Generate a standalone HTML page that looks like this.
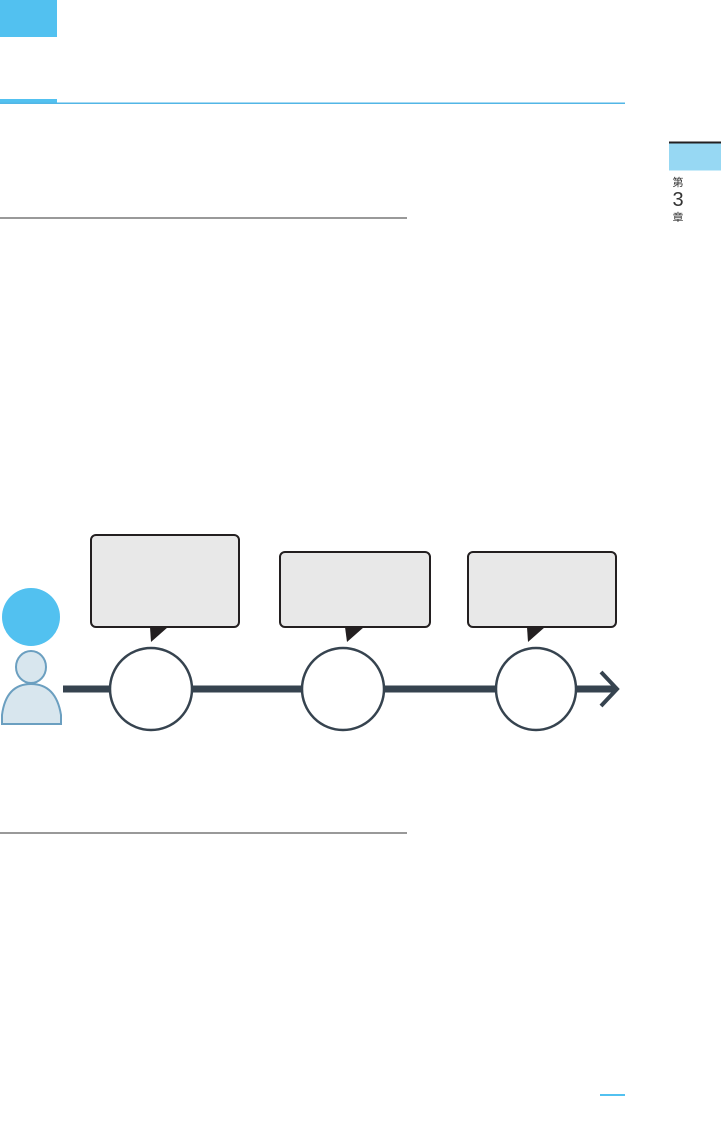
<!DOCTYPE html>
<html><head><meta charset="utf-8"><style>
html,body{margin:0;padding:0;background:#fff;}
svg{display:block;}
</style></head><body>
<svg width="721" height="1123" viewBox="0 0 721 1123" xmlns="http://www.w3.org/2000/svg">
<rect x="0" y="0" width="57" height="37" fill="#52c1f0"/>
<rect x="0" y="99" width="57" height="5" fill="#52c1f0"/>
<rect x="0" y="102.5" width="625" height="1.5" fill="#52b6e6"/>
<rect x="669" y="141.5" width="52" height="2" fill="#231f20"/>
<rect x="669" y="143.5" width="52" height="27" fill="#97d8f3"/>
<text x="678" y="186" font-family="'Liberation Sans','Noto Sans CJK JP',sans-serif" font-size="11" fill="#333" text-anchor="middle">第</text>
<text x="678" y="206" font-family="'Liberation Sans','Noto Sans CJK JP',sans-serif" font-size="20" fill="#333" text-anchor="middle">3</text>
<text x="678" y="221" font-family="'Liberation Sans','Noto Sans CJK JP',sans-serif" font-size="11" fill="#333" text-anchor="middle">章</text>
<rect x="0" y="217.5" width="407" height="1" fill="#333"/>
<rect x="0" y="832.5" width="407" height="1" fill="#333"/>
<rect x="600" y="1094" width="25" height="2" fill="#52c1f0"/>

<g fill="#e8e8e8" stroke="#231f20" stroke-width="2">
<rect x="91" y="535" width="148" height="92" rx="5"/>
<rect x="280" y="552" width="150" height="75" rx="5"/>
<rect x="468" y="552" width="148" height="75" rx="5"/>
</g>
<g fill="#231f20">
<polygon points="150,627 168,627 151,642"/>
<polygon points="345,627 364,627 347,642"/>
<polygon points="527,627 545,627 528,642"/>
</g>
<line x1="63" y1="689" x2="616" y2="689" stroke="#36434f" stroke-width="7"/>
<polyline points="601,672 617,689 601,706" fill="none" stroke="#36434f" stroke-width="4"/>
<g fill="#fff" stroke="#36434f" stroke-width="2.5">
<ellipse cx="151" cy="689" rx="41" ry="41"/>
<ellipse cx="343" cy="689" rx="41" ry="41"/>
<ellipse cx="536" cy="689" rx="40" ry="41"/>
</g>
<circle cx="31" cy="617" r="29" fill="#52c1f0"/>
<g fill="#d8e6ee" stroke="#6b9fc0" stroke-width="2">
<path d="M2,724 L2,715 Q6,684 31,684 Q56,684 61,715 L61,724 Z"/>
<ellipse cx="31" cy="667" rx="15" ry="16"/>
</g>
</svg>
</body></html>
